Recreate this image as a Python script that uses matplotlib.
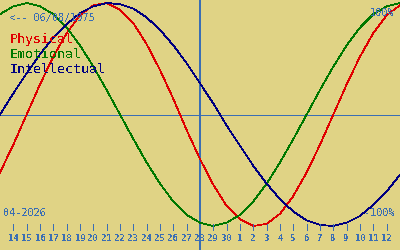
import matplotlib
matplotlib.use("Agg")
import matplotlib.pyplot as plt

# day offsets from 13 Apr 2026 (0) to 13 May 2026 (30)
days = list(range(31))
physical = [-0.52, -0.27, 0.00, 0.27, 0.52, 0.73, 0.89, 0.98, 1.00, 0.94, 0.82,
            0.63, 0.40, 0.14, -0.14, -0.40, -0.63, -0.82, -0.94, -1.00, -0.98,
            -0.89, -0.73, -0.52, -0.27, 0.00, 0.27, 0.52, 0.73, 0.89, 0.98]
emotional = [0.90, 0.97, 1.00, 0.97, 0.90, 0.78, 0.62, 0.43, 0.22, 0.00, -0.22,
             -0.43, -0.62, -0.78, -0.90, -0.97, -1.00, -0.97, -0.90, -0.78, -0.62,
             -0.43, -0.22, 0.00, 0.22, 0.43, 0.62, 0.78, 0.90, 0.97, 1.00]
intellectual = [0.00, 0.19, 0.37, 0.54, 0.69, 0.81, 0.91, 0.97, 1.00, 0.99, 0.95,
                0.87, 0.76, 0.62, 0.46, 0.28, 0.10, -0.10, -0.28, -0.46, -0.62,
                -0.76, -0.87, -0.95, -0.99, -1.00, -0.97, -0.91, -0.81, -0.69, -0.54]
tick_pos = list(range(1, 30))
tick_labels = [str(d) for d in list(range(14, 31)) + list(range(1, 13))]
today = 15
series_names = ["Physical", "Emotional", "Intellectual"]
series_colors = ["#e00000", "#007800", "#000080"]

plt.rcParams["text.antialiased"] = False
bg = "#e0d385"
blue = "#3a6eb4"
mono = ["DejaVu Sans Mono"]

fig = plt.figure(figsize=(4, 2.5), dpi=100, facecolor=bg)
ax = fig.add_axes([0, 0, 1, 1], facecolor=bg)
ax.set_xlim(0, 30)
ax.set_ylim(-1.215, 1.027)
ax.axis("off")

ax.axhline(0, color=blue, lw=0.72, antialiased=False)
ax.axvline(today, color=blue, lw=1.44, antialiased=False)

for vals, c in zip([physical, emotional, intellectual], series_colors):
    ax.plot(days, vals, color=c, lw=0.55, antialiased=False)

tr = ax.get_xaxis_transform()
ax.vlines(tick_pos, 1 - 230 / 250, 1 - 224 / 250, transform=tr, color=blue,
          lw=0.72, antialiased=False)
for p, lab in zip(tick_pos, tick_labels):
    ax.text(p, 1 - 241 / 250, lab, transform=tr, ha="center", va="baseline",
            fontsize=6.4, color=blue, family=mono, fontweight="bold")


def ftext(x, y, s, **kw):
    fig.text(x / 400, 1 - y / 250, s, va="baseline", family=mono, **kw)


ftext(9, 21, "<-- 06/08/1975", fontsize=7.4, color=blue)
for i, (n, c) in enumerate(zip(series_names, series_colors)):
    ftext(10, 43 + 15 * i, n, fontsize=9.6, color=c)
ftext(394, 16, "100%", fontsize=7.4, color=blue, ha="right")
ftext(395, 216, "-100%", fontsize=7.4, color=blue, ha="right")
ftext(3, 216, "04-2026", fontsize=7.4, color=blue)

fig.savefig("out.png", dpi=100, facecolor=bg)
